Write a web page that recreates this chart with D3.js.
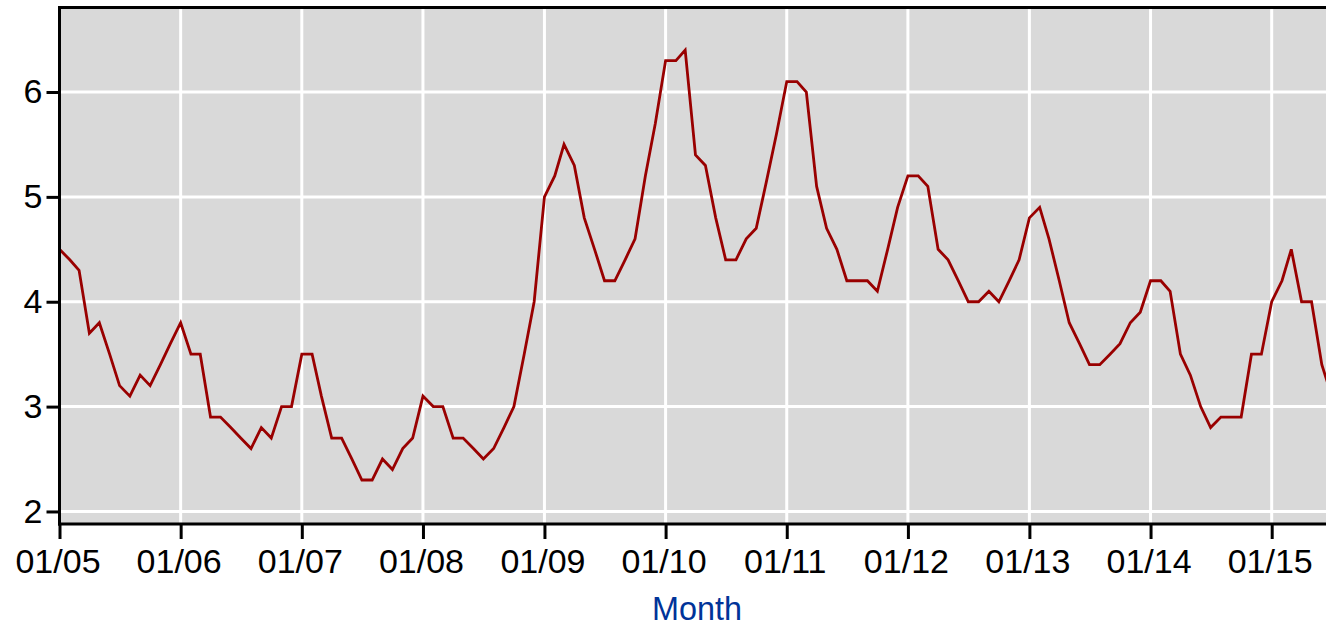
<!DOCTYPE html>
<html><head><meta charset="utf-8">
<script src="https://cdn.jsdelivr.net/npm/d3@7"></script>
<style>body{margin:0;background:#fff}svg{display:block}</style>
</head><body><svg id="c" width="1326" height="627"></svg>
<script>
// ---- data (monthly values, first month = startMonth) ----
const startMonth = "2005-01";
const rate2005 = [4.5, 4.4, 4.3, 3.7, 3.8, 3.5, 3.2, 3.1, 3.3, 3.2, 3.4, 3.6];
const rate2006 = [3.8, 3.5, 3.5, 2.9, 2.9, 2.8, 2.7, 2.6, 2.8, 2.7, 3.0, 3.0];
const rate2007 = [3.5, 3.5, 3.1, 2.7, 2.7, 2.5, 2.3, 2.3, 2.5, 2.4, 2.6, 2.7];
const rate2008 = [3.1, 3.0, 3.0, 2.7, 2.7, 2.6, 2.5, 2.6, 2.8, 3.0, 3.5, 4.0];
const rate2009 = [5.0, 5.2, 5.5, 5.3, 4.8, 4.5, 4.2, 4.2, 4.4, 4.6, 5.2, 5.7];
const rate2010 = [6.3, 6.3, 6.4, 5.4, 5.3, 4.8, 4.4, 4.4, 4.6, 4.7, 5.15, 5.6];
const rate2011 = [6.1, 6.1, 6.0, 5.1, 4.7, 4.5, 4.2, 4.2, 4.2, 4.1, 4.5, 4.9];
const rate2012 = [5.2, 5.2, 5.1, 4.5, 4.4, 4.2, 4.0, 4.0, 4.1, 4.0, 4.2, 4.4];
const rate2013 = [4.8, 4.9, 4.6, 4.2, 3.8, 3.6, 3.4, 3.4, 3.5, 3.6, 3.8, 3.9];
const rate2014 = [4.2, 4.2, 4.1, 3.5, 3.3, 3.0, 2.8, 2.9, 2.9, 2.9, 3.5, 3.5];
const rate2015 = [4.0, 4.2, 4.5, 4.0, 4.0, 3.4, 3.1];

const yTickValues = [2, 3, 4, 5, 6];
const xTickYears = [2005, 2006, 2007, 2008, 2009, 2010, 2011, 2012, 2013, 2014, 2015];
const xTickFormat = "%m/%y";
const xAxisTitle = "Month";

// ---- build ----
const values = [].concat(rate2005, rate2006, rate2007, rate2008, rate2009, rate2010,
  rate2011, rate2012, rate2013, rate2014, rate2015);
const start = d3.timeParse("%Y-%m")(startMonth);
const data = values.map((v, i) => ({ date: d3.timeMonth.offset(start, i), value: v }));
const xTicks = xTickYears.map(yr => new Date(yr, 0, 1));

const L = 59.5, T = 7.5, B = 524, R = 1326;
const x = d3.scaleTime().domain([new Date(2005, 0, 1), new Date(2015, 0, 1)]).range([59.5, 1271.7]);
const y = d3.scaleLinear().domain([1.89, 6.806]).range([523, 7.5]);

const svg = d3.select("#c");
svg.append("defs").append("clipPath").attr("id", "clip")
  .append("rect").attr("x", L).attr("y", T).attr("width", R - L).attr("height", B - T);

svg.append("rect").attr("x", L).attr("y", T).attr("width", R - L).attr("height", B - T)
  .attr("fill", "#d9d9d9");

// gridlines
const grid = svg.append("g").attr("clip-path", "url(#clip)");
grid.selectAll("line.h").data(yTickValues).join("line").attr("class", "h")
  .attr("x1", L).attr("x2", R).attr("y1", d => y(d)).attr("y2", d => y(d))
  .attr("stroke", "#fff").attr("stroke-width", 3);
grid.selectAll("line.v").data(xTicks).join("line").attr("class", "v")
  .attr("x1", d => x(d)).attr("x2", d => x(d)).attr("y1", T).attr("y2", B)
  .attr("stroke", "#fff").attr("stroke-width", 3);

// line
svg.append("path").datum(data).attr("clip-path", "url(#clip)")
  .attr("fill", "none").attr("stroke", "#990000").attr("stroke-width", 2.8)
  .attr("stroke-linejoin", "miter")
  .attr("d", d3.line().x(d => x(d.date)).y(d => y(d.value)));

// axes
const yAxis = svg.append("g").attr("transform", `translate(${L},0)`)
  .call(d3.axisLeft(y).tickValues(yTickValues).tickFormat(d3.format("d")).tickSize(13).tickPadding(4));
const xAxis = svg.append("g").attr("transform", `translate(0,${B})`)
  .call(d3.axisBottom(x).tickValues(xTicks).tickFormat(d3.timeFormat(xTickFormat)).tickSize(15).tickPadding(10));
[yAxis, xAxis].forEach(g => {
  g.select(".domain").remove();
  g.selectAll(".tick line").attr("stroke", "#000").attr("stroke-width", 3);
  g.selectAll("text").attr("fill", "#000")
    .style("font-family", "'Liberation Sans', Arial, sans-serif").style("font-size", "34px");
});
xAxis.selectAll("text").attr("dx", "-2");

// frame
svg.append("line").attr("x1", L - 1.5).attr("x2", R).attr("y1", T).attr("y2", T)
  .attr("stroke", "#000").attr("stroke-width", 3);
svg.append("line").attr("x1", L).attr("x2", L).attr("y1", T - 1.5).attr("y2", B + 1.5)
  .attr("stroke", "#000").attr("stroke-width", 3);
svg.append("line").attr("x1", L - 1.5).attr("x2", R).attr("y1", B).attr("y2", B)
  .attr("stroke", "#000").attr("stroke-width", 3);

svg.append("text").attr("x", 697).attr("y", 620).attr("text-anchor", "middle")
  .attr("fill", "#003399").style("font-family", "'Liberation Sans', Arial, sans-serif")
  .style("font-size", "33px").attr("textLength", 90).attr("lengthAdjust", "spacingAndGlyphs")
  .text(xAxisTitle);
</script></body></html>
